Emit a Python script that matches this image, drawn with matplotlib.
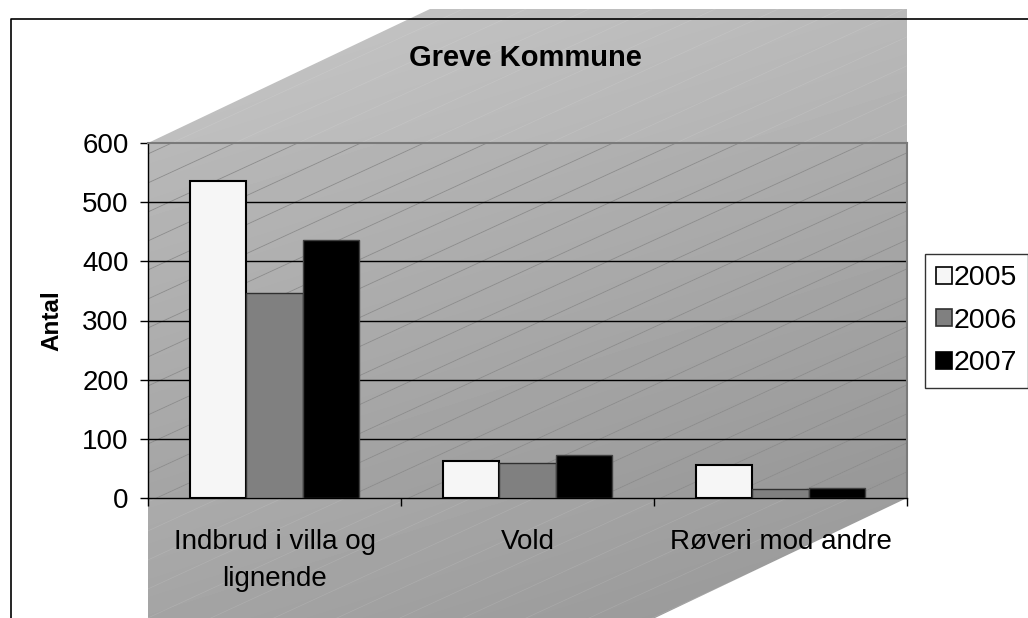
import numpy as np
import matplotlib
matplotlib.use("Agg")
import matplotlib.pyplot as plt
from matplotlib.patches import Polygon, Rectangle, Patch

plt.rcParams['font.family'] = ['Liberation Sans', 'DejaVu Sans']

# data
categories = ["Indbrud i villa og\nlignende", "Vold", "Røveri mod andre"]
years = ["2005", "2006", "2007"]
v2005 = [535, 62, 56]
v2006 = [347, 59, 16]
v2007 = [436, 73, 17]
yticks = [0, 100, 200, 300, 400, 500, 600]

W, H = 1028, 618
fig = plt.figure(figsize=(W / 100, H / 100), dpi=100)
fig.patch.set_facecolor('white')

#background: the grey 3d walls, drawn in pixel coords
bg = fig.add_axes([0, 0, 1, 1])
bg.set_xlim(0, W)
bg.set_ylim(H, 0)
bg.axis('off')

px0, py0, px1, py1 = 148, 143, 907, 498  # plot area in pixels
wall = Polygon([(px0, py0), (430, 9), (px1, 9), (px1, py1), (655, H), (px0, H)],
               closed=True, facecolor='none', edgecolor='none')
bg.add_patch(wall)
X, Y = np.meshgrid(np.arange(W), np.arange(H))
shade = 0.79 - 0.00007 * X - 0.00022 * Y
inside = (X >= px0) & (X <= px1) & (Y >= py0) & (Y <= py1)
shade[inside] -= 0.025
im = bg.imshow(shade, cmap='gray', vmin=0, vmax=1, extent=(0, W, H, 0),
               interpolation='bilinear', aspect='auto')
im.set_clip_path(wall)

plot_rect = Rectangle((px0, py0), px1 - px0, py1 - py0, facecolor='none', edgecolor='none')
bg.add_patch(plot_rect)
for off in np.arange(-300, 1200, 29):
    l1, = bg.plot([0, W], [off, off - 0.46 * W], color='white', lw=0.5, alpha=0.12)
    l1.set_clip_path(wall)
    l2, = bg.plot([0, W], [off, off - 0.46 * W], color='#8a8a8a', lw=0.6)
    l2.set_clip_path(plot_rect)

# outer frame
bg.plot([11, 11, W], [H, 19, 19], color='black', lw=1.2)

# main chart
ax = fig.add_axes([px0 / W, 1 - py1 / H, (px1 - px0) / W, (py1 - py0) / H])
ax.set_facecolor('none')
x = np.arange(len(categories)) + 0.5
w = 1 / 4.5
ax.bar(x - w, v2005, w, color='#f6f6f6', edgecolor='black', lw=1.5, label=years[0], zorder=3)
ax.bar(x, v2006, w, color='#808080', edgecolor='#303030', lw=1.0, label=years[1], zorder=3)
ax.bar(x + w, v2007, w, color='black', edgecolor='#404040', lw=1.0, label=years[2], zorder=3)

ax.set_xlim(0, 3)
ax.set_ylim(0, 600)
ax.set_yticks(yticks)
ax.set_yticklabels([str(t) for t in yticks])
for t in yticks[1:-1]:
    ax.axhline(t, color='black', lw=1, zorder=1)
ax.set_xticks([0, 1, 2, 3])
ax.set_xticklabels([])
ax.set_xticks(x, minor=True)
ax.set_xticklabels(categories, minor=True, linespacing=1.55)
ax.tick_params(axis='y', direction='out', length=6, width=1, pad=8, labelsize=20)
ax.tick_params(axis='x', which='major', direction='out', length=6, width=1)
ax.tick_params(axis='x', which='minor', length=0, pad=22, labelsize=20)
for s in ['left', 'bottom']:
    ax.spines[s].set_color('black')
    ax.spines[s].set_linewidth(1)
for s in ['top', 'right']:
    ax.spines[s].set_color('#7a7a7a')
    ax.spines[s].set_linewidth(1.5)

fig.text(525 / W, 1 - 58 / H, "Greve Kommune", ha='center', va='center',
         fontsize=21, fontweight='bold')
fig.text(52 / W, 1 - 321 / H, "Antal", ha='center', va='center', rotation=90,
         fontsize=17.5, fontweight='bold')

handles = [Patch(facecolor='#f6f6f6', edgecolor='black', lw=1.2),
           Patch(facecolor='#808080', edgecolor='#303030', lw=1.2),
           Patch(facecolor='black', edgecolor='black', lw=1.2)]
leg = fig.legend(handles, years, loc='upper left', bbox_to_anchor=(925 / W, 1 - 254 / H),
                 borderaxespad=0, fontsize=20.5, frameon=True, fancybox=False,
                 handlelength=0.55, handleheight=0.55, handletextpad=0.05,
                 labelspacing=0.58, borderpad=0.4)
leg.get_frame().set_edgecolor('black')
leg.get_frame().set_linewidth(1)

fig.savefig('out.png', dpi=100)
